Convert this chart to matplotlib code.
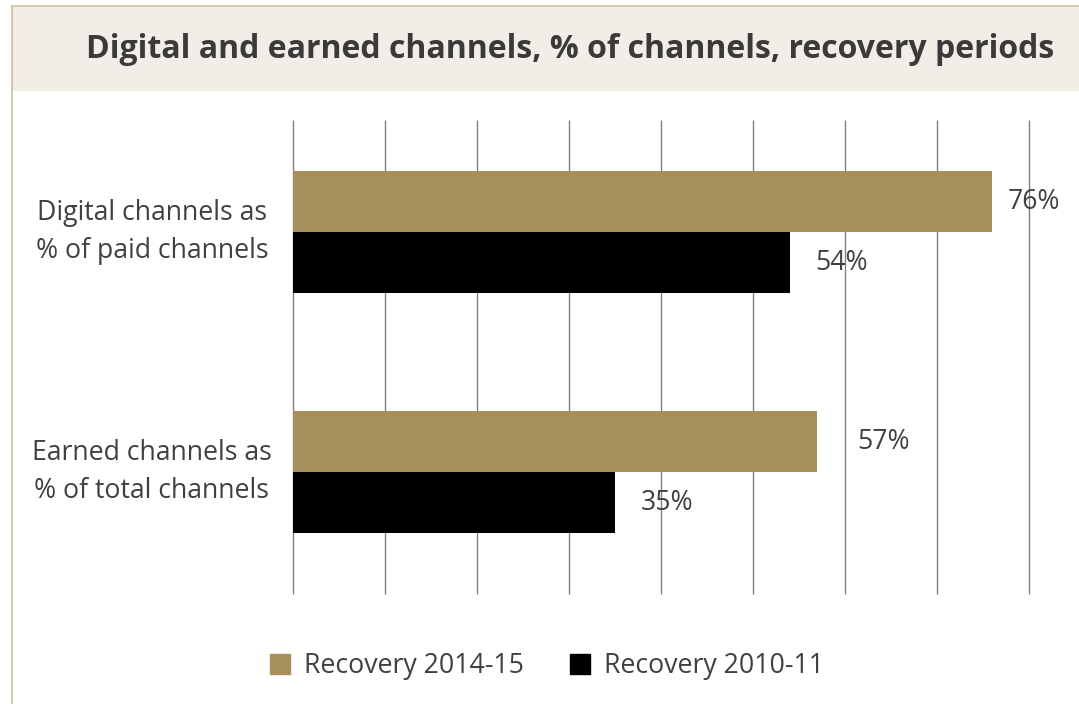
import matplotlib.pyplot as plt
from matplotlib.lines import Line2D
from matplotlib.patches import Rectangle
import matplotlib.transforms as mtransforms

plt.rcParams['font.family'] = ['Open Sans', 'DejaVu Sans']

categories = ['Digital channels as\n% of paid channels',
              'Earned channels as\n% of total channels']
series_names = ['Recovery 2014-15', 'Recovery 2010-11']
recovery_2014 = [76, 57]
recovery_2010 = [54, 35]
xticks = [0, 10, 20, 30, 40, 50, 60, 70, 80]

GOLD = '#a68f5b'
TEXT = '#404040'
GRID = '#808080'
BAND = '#f2eee7'
EDGE = '#cbc1a3'
FS = 19.2

W, H = 1079, 704
fig = plt.figure(figsize=(W / 100, H / 100), dpi=100)

# title band + thin frame on the left and top
fig.patches.append(Rectangle((12 / W, 1 - 91 / H), 1 - 12 / W, 85 / H,
                             transform=fig.transFigure, facecolor=BAND,
                             edgecolor='none', zorder=0))
fig.add_artist(Line2D([11.5 / W, 1], [1 - 6 / H, 1 - 6 / H],
                      transform=fig.transFigure, color=EDGE, lw=1.2))
fig.add_artist(Line2D([11.5 / W, 11.5 / W], [0, 1 - 6 / H],
                      transform=fig.transFigure, color=EDGE, lw=1.2))
fig.text(570 / W, 1 - 49 / H,
         'Digital and earned channels, % of channels, recovery periods',
         ha='center', va='center', fontsize=23, fontweight='bold',
         color='#3a3a3a')

ax = fig.add_axes([293 / W, 1 - 594 / H, (1029 - 293) / W, (594 - 120) / H])
ax.set_xlim(0, 80)
ax.set_ylim(1.508, -0.467)
for s in ax.spines.values():
    s.set_visible(False)
ax.set_xticks([])
ax.set_yticks([])

ax.vlines(xticks, 1.508, -0.467, color=GRID, lw=1.0, zorder=1, clip_on=False)

h = 0.254
ypos = list(range(len(categories)))
ax.barh([y - h / 2 for y in ypos], recovery_2014, height=h, color=GOLD, zorder=2)
ax.barh([y + h / 2 for y in ypos], recovery_2010, height=h, color='black', zorder=2)

# value labels, nudged right of the bar ends (pixels)
nudge_2014 = [16, 40]
nudge_2010 = [25, 26]
for y, v, dx in zip(ypos, recovery_2014, nudge_2014):
    off = mtransforms.offset_copy(ax.transData, fig=fig, x=dx, y=0, units='dots')
    ax.text(v, y - h / 2, f'{v}%', transform=off, ha='left', va='center',
            fontsize=FS, color=TEXT, zorder=3)
for y, v, dx in zip(ypos, recovery_2010, nudge_2010):
    off = mtransforms.offset_copy(ax.transData, fig=fig, x=dx, y=0, units='dots')
    ax.text(v, y + h / 2, f'{v}%', transform=off, ha='left', va='center',
            fontsize=FS, color=TEXT, zorder=3)

# category labels to the left of the plot
lab_tr = mtransforms.blended_transform_factory(fig.transFigure, ax.transData)
for y, c in zip(ypos, categories):
    ax.text(152 / W, y, c, transform=lab_tr, ha='center', va='center',
            multialignment='center', fontsize=FS, color=TEXT,
            linespacing=1.5, clip_on=False)

handles = [Line2D([], [], marker='s', linestyle='none', markersize=14,
                  markerfacecolor=GOLD, markeredgecolor=GOLD),
           Line2D([], [], marker='s', linestyle='none', markersize=14,
                  markerfacecolor='black', markeredgecolor='black')]
leg = fig.legend(handles, series_names, loc='center',
                 bbox_to_anchor=(547 / W, 1 - 666 / H), ncol=2, frameon=False,
                 fontsize=FS, handlelength=0.75, handletextpad=0.55,
                 columnspacing=1.7, borderpad=0)
for t in leg.get_texts():
    t.set_color(TEXT)

fig.savefig('out.png', dpi=100)
